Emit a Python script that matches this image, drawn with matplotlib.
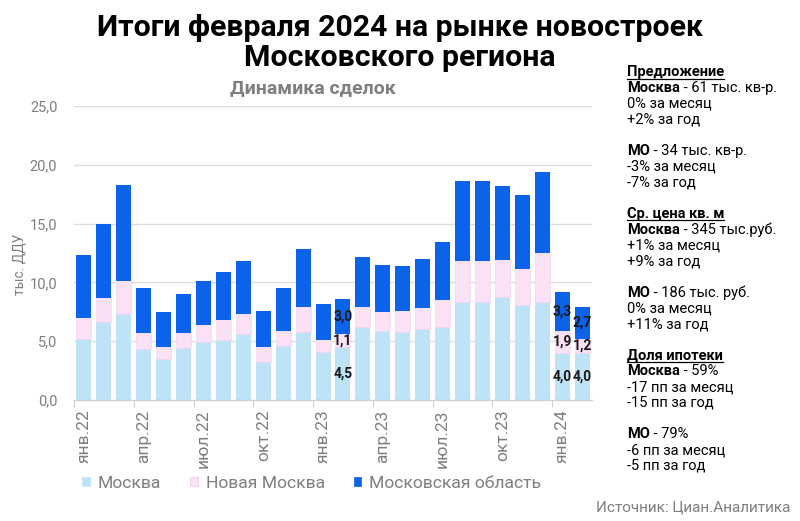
import matplotlib
matplotlib.use("Agg")
import numpy as np
import matplotlib.pyplot as plt
from matplotlib.patches import Patch
from matplotlib.lines import Line2D

# ----------------------------
# данные (тыс. ДДУ)
# ----------------------------
months = ["янв", "фев", "мар", "апр", "май", "июн",
          "июл", "авг", "сен", "окт", "ноя", "дек"]
years = ["22"] * 12 + ["23"] * 12 + ["24"] * 2
period_labels = [f"{months[i % 12]}.{y}" for i, y in enumerate(years)]

moscow = [5.2, 6.6, 7.3, 4.3, 3.5, 4.4, 4.9, 5.1, 5.6, 3.2, 4.6, 5.8, 4.1,
          4.5, 6.2, 5.9, 5.8, 6.0, 6.2, 8.3, 8.3, 8.8, 8.1, 8.3, 4.0, 4.0]
new_moscow = [1.8, 2.1, 2.8, 1.4, 1.0, 1.3, 1.5, 1.7, 1.7, 1.3, 1.3, 2.1, 1.0,
              1.1, 1.7, 1.6, 1.8, 1.8, 2.3, 3.5, 3.5, 3.1, 3.0, 4.2, 1.9, 1.2]
mo_region = [5.3, 6.3, 8.2, 3.8, 3.0, 3.3, 3.7, 4.1, 4.5, 3.1, 3.6, 4.9, 3.1,
             3.0, 4.3, 4.0, 3.8, 4.2, 4.9, 6.8, 6.8, 6.3, 6.3, 6.9, 3.3, 2.7]
labeled_bars = [13, 24, 25]  # фев.23, янв.24, фев.24

series_names = ["Москва", "Новая Москва", "Московская область"]

side_text = [
    ("Предложение", "", True),
    ("Москва", " - 61 тыс. кв-р.", False),
    ("", "0% за месяц", False),
    ("", "+2% за год", False),
    None,
    ("МО", " - 34 тыс. кв-р.", False),
    ("", "-3% за месяц", False),
    ("", "-7% за год", False),
    None,
    ("Ср. цена кв. м", "", True),
    ("Москва", " - 345 тыс.руб.", False),
    ("", "+1% за месяц", False),
    ("", "+9% за год", False),
    None,
    ("МО", " - 186 тыс. руб.", False),
    ("", "0% за месяц", False),
    ("", "+11% за год", False),
    None,
    ("Доля ипотеки", "", True),
    ("Москва", " - 59%", False),
    ("", "-17 пп за месяц", False),
    ("", "-15 пп за год", False),
    None,
    ("МО", " - 79%", False),
    ("", "-6 пп за месяц", False),
    ("", "-5 пп за год", False),
]

C_MSK = "#bfe3f6"
C_NEW = "#fbe1f5"
C_MO = "#0a63e8"
GRAY = "#7f7f7f"

plt.rcParams["font.family"] = ["Roboto", "DejaVu Sans"]

fig = plt.figure(figsize=(8, 5.21), dpi=100)
W, H = 800, 521
ax = fig.add_axes([74 / W, 1 - 400 / H, (592 - 74) / W, (400 - 106) / H])

x = np.arange(len(moscow))
msk = np.array(moscow)
new = np.array(new_moscow)
mo = np.array(mo_region)

ax.bar(x, msk, width=0.75, color=C_MSK, label=series_names[0])
ax.bar(x, new, width=0.75, bottom=msk, color=C_NEW, edgecolor="#f4d2ee",
       linewidth=0.4, label=series_names[1])
ax.bar(x, mo, width=0.75, bottom=msk + new, color=C_MO, label=series_names[2])

# подписи значений
for i in labeled_bars:
    for val, base in [(msk[i], 0), (new[i], msk[i]), (mo[i], msk[i] + new[i])]:
        ax.text(i, base + val / 2, f"{val:.1f}".replace(".", ","),
                ha="center", va="center", fontsize=10, fontweight="bold",
                color="#1a1a1a")

ax.set_xlim(-0.5, len(x) - 0.5)
ax.set_ylim(0, 25)
ax.set_yticks(np.arange(0, 26, 5))
ax.set_yticklabels([f"{v:.1f}".replace(".", ",") for v in np.arange(0, 26, 5)],
                   color=GRAY, fontsize=10.5)
ax.yaxis.grid(True, color="#dddddd", linewidth=1)
ax.set_axisbelow(True)
ax.tick_params(axis="y", length=0, pad=12)

# метки каждые 3 месяца, засечки на границах
ax.set_xticks(np.arange(-0.5, len(x), 3))
ax.set_xticklabels([])
ax.set_xticks(np.arange(0, len(x), 3), minor=True)
ax.set_xticklabels(period_labels[::3], minor=True, rotation=90,
                   color=GRAY, fontsize=12.5)
ax.tick_params(axis="x", which="major", length=5, color="#d0d0d0")
ax.tick_params(axis="x", which="minor", length=0, pad=7)

for s in ["top", "right", "left"]:
    ax.spines[s].set_visible(False)
ax.spines["bottom"].set_color("#d0d0d0")

ax.set_ylabel("тыс. ДДУ", color=GRAY, fontsize=10)
ax.yaxis.set_label_coords(-0.092, 0.46)

# заголовки
fig.text(400 / W, 1 - 28 / H, "Итоги февраля 2024 на рынке новостроек",
         ha="center", va="center", fontsize=21.8, fontweight="bold",
         color="black")
fig.text(400 / W, 1 - 58 / H, "Московского региона",
         ha="center", va="center", fontsize=21.8, fontweight="bold",
         color="black")
fig.text(313 / W, 1 - 88 / H, "Динамика сделок", ha="center", va="center",
         fontsize=14, fontweight="bold", color=GRAY)

# легенда
handles = [Patch(facecolor=c, edgecolor=e, linewidth=0.5)
           for c, e in [(C_MSK, C_MSK), (C_NEW, "#e9c7e3"), (C_MO, C_MO)]]
fig.legend(handles, series_names, loc="center left",
           bbox_to_anchor=(66 / W, 1 - 483 / H), ncol=3, frameon=False,
           handlelength=0.45, handleheight=0.45, handletextpad=0.45,
           columnspacing=1.65, fontsize=12.6, labelcolor=GRAY)

fig.text(790 / W, 1 - 508 / H, "Источник: Циан.Аналитика", ha="right",
         va="center", fontsize=11, color=GRAY)

# текст справа
renderer = fig.canvas.get_renderer()
x0, y0, step = 627, 72, 15.76
FS = 10.5
for k, item in enumerate(side_text):
    if item is None:
        continue
    bold, rest, header = item
    yy = 1 - (y0 + k * step) / H
    if bold:
        t = fig.text(x0 / W, yy, bold, ha="left", va="center", fontsize=FS,
                     fontweight="bold", color="black")
        if header:
            bb = t.get_window_extent(renderer)
            fig.add_artist(Line2D([bb.x0 / W, bb.x1 / W],
                                  [(bb.y0 + 0.5) / H, (bb.y0 + 0.5) / H],
                                  color="black", linewidth=0.9))
        if rest:
            ax.annotate(rest, xy=(1, 0.5), xycoords=t, va="center",
                        ha="left", fontsize=FS, color="black",
                        annotation_clip=False)
    else:
        fig.text(x0 / W, yy, rest, ha="left", va="center", fontsize=FS,
                 color="black")

fig.savefig("out.png", dpi=100)
